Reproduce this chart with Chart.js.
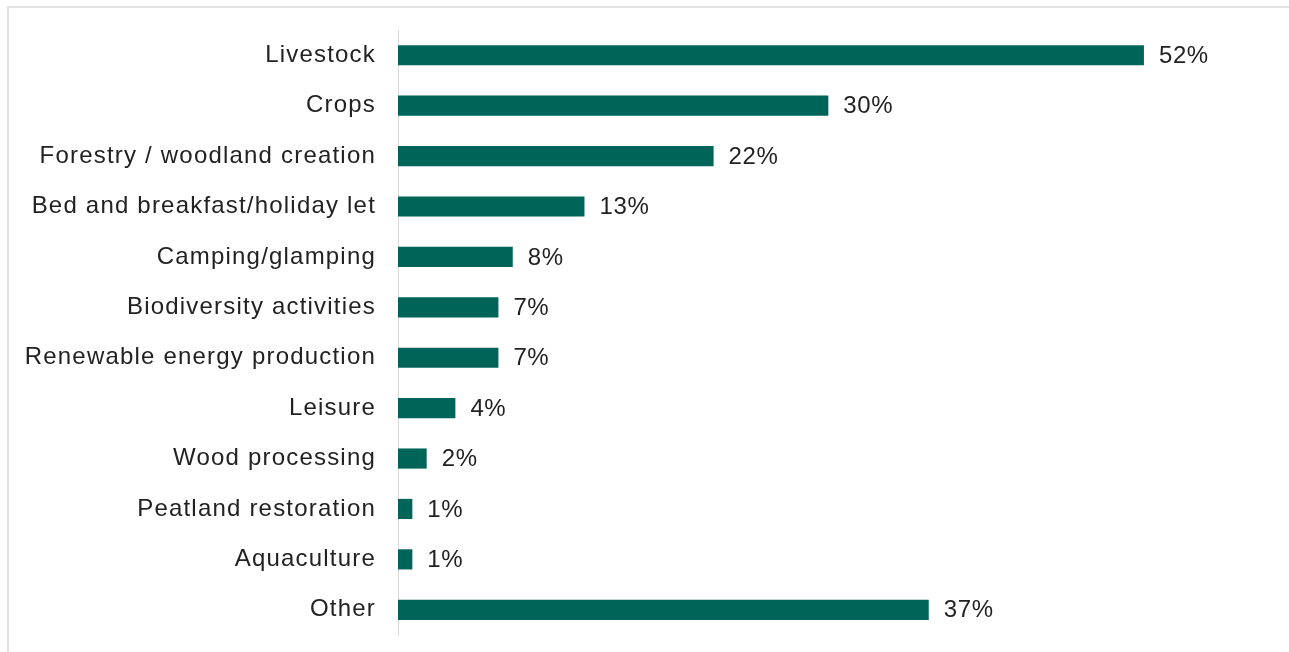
<!DOCTYPE html>
<html lang="en">
<head>
    <meta charset="UTF-8">
    <title>Farm activities</title>
    <script src="https://cdn.jsdelivr.net/npm/chart.js@4.4.0/dist/chart.umd.min.js"></script>
    <style>
        body {
            margin: 0;
            background: #ffffff;
            overflow: hidden;
        }

        .frame {
            position: absolute;
            left: 7px;
            top: 6px;
            right: -10px;
            bottom: -10px;
            border: 2px solid #e2e2e2;
        }

        .chart-container {
            position: absolute;
            left: 0;
            top: 0;
            width: 1289px;
            height: 652px;
        }
    </style>
</head>
<body>
    <div class="frame"></div>
    <div class="chart-container">
        <canvas id="activityChart" width="1289" height="652"></canvas>
    </div>

    <script>
        const activities = [
            'Livestock',
            'Crops',
            'Forestry / woodland creation',
            'Bed and breakfast/holiday let',
            'Camping/glamping',
            'Biodiversity activities',
            'Renewable energy production',
            'Leisure',
            'Wood processing',
            'Peatland restoration',
            'Aquaculture',
            'Other'
        ];
        const shares = [52, 30, 22, 13, 8, 7, 7, 4, 2, 1, 1, 37];

        const barColour = '#006459';
        const textColour = '#222222';
        const fontFamily = "'Liberation Sans', Arial, sans-serif";
        const spacing = '1.2px';

        // the labels are set a little loose, like the office chart they come from
        const looseText = {
            id: 'looseText',
            beforeDraw(chart) {
                chart.ctx.letterSpacing = spacing;
            }
        };

        // writes the percentage just past the end of each bar
        const valueLabels = {
            id: 'valueLabels',
            afterDatasetsDraw(chart) {
                const ctx = chart.ctx;
                const meta = chart.getDatasetMeta(0);
                ctx.save();
                ctx.letterSpacing = '0.6px';
                ctx.font = '24px ' + fontFamily;
                ctx.fillStyle = textColour;
                ctx.textAlign = 'left';
                ctx.textBaseline = 'middle';
                meta.data.forEach((bar, i) => {
                    ctx.fillText(shares[i] + '%', bar.x + 15, bar.y + 1);
                });
                ctx.restore();
            }
        };

        const ctx = document.getElementById('activityChart').getContext('2d');
        new Chart(ctx, {
            type: 'bar',
            data: {
                labels: activities,
                datasets: [{
                    data: shares,
                    backgroundColor: barColour,
                    borderWidth: 0,
                    categoryPercentage: 1,
                    barPercentage: 0.4
                }]
            },
            options: {
                indexAxis: 'y',
                responsive: false,
                animation: false,
                devicePixelRatio: 1,
                layout: {
                    padding: { left: 0, top: 30, right: 59, bottom: 17 }
                },
                plugins: {
                    legend: { display: false },
                    tooltip: { enabled: false }
                },
                scales: {
                    x: {
                        display: false,
                        min: 0,
                        max: 58
                    },
                    y: {
                        afterFit(scale) {
                            scale.width = 398;
                            scale.paddingTop = 0;
                            scale.paddingBottom = 0;
                        },
                        grid: {
                            display: false,
                            drawTicks: false
                        },
                        border: {
                            display: true,
                            color: '#d9d9d9',
                            width: 1
                        },
                        ticks: {
                            padding: 22,
                            color: textColour,
                            font: { family: fontFamily, size: 24 }
                        }
                    }
                }
            },
            plugins: [looseText, valueLabels]
        });
    </script>
</body>
</html>
